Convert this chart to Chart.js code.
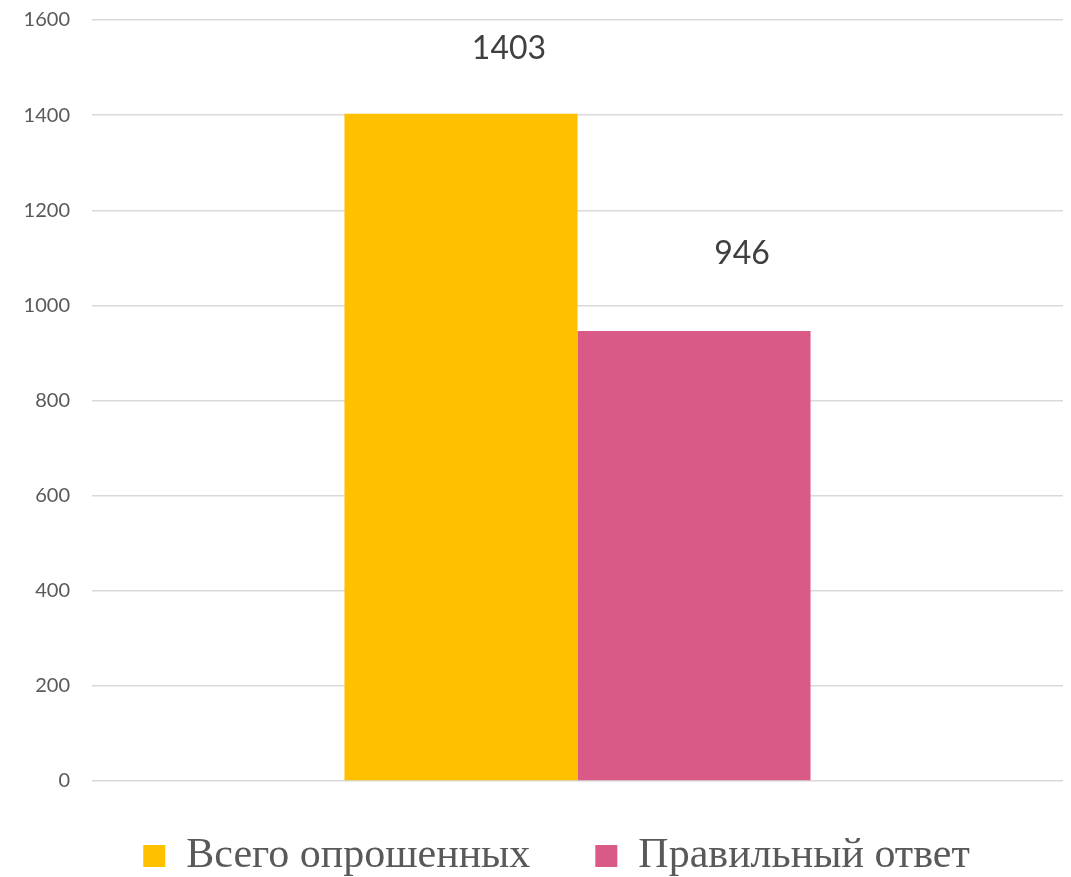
<!DOCTYPE html>
<html>
<head>
<meta charset="utf-8">
<script src="https://cdn.jsdelivr.net/npm/chart.js@4.4.1/dist/chart.umd.min.js"></script>
<style>
  html, body { margin: 0; padding: 0; background: #fff; }
  #wrap { width: 1071px; height: 877px; }
</style>
</head>
<body>
<div id="wrap"><canvas id="surveyChart"></canvas></div>
<script>
// данные опроса
var categories = [''];
var seriesNames = ['Всего опрошенных', 'Правильный ответ'];
var totalValues = [1403];
var correctValues = [946];
var yTicks = [0, 200, 400, 600, 800, 1000, 1200, 1400, 1600];

// подписи значений над столбцами (сдвиг как в исходнике)
var valueLabels = {
    id: 'valueLabels',
    afterDatasetsDraw: function(chart, args, opts) {
        var ctx = chart.ctx;
        ctx.save();
        ctx.font = '32px Lato, "Open Sans", sans-serif';
        ctx.fillStyle = '#404040';
        ctx.textAlign = 'center';
        ctx.textBaseline = 'middle';
        chart.data.datasets.forEach(function(ds, i) {
            var meta = chart.getDatasetMeta(i);
            meta.data.forEach(function(bar, j) {
                var off = opts.offsets[i];
                ctx.fillText(String(ds.data[j]), bar.x + off[0], bar.y + off[1]);
            });
        });
        ctx.restore();
    }
};

// легенда в исходнике чуть смещена вправо и вниз
var legendShift = {
    id: 'legendShift',
    afterLayout: function(chart, args, opts) {
        if (chart.legend) {
            chart.legend.left += opts.dx;
            chart.legend.right += opts.dx;
            chart.legend.top += opts.dy;
            chart.legend.bottom += opts.dy;
        }
    }
};

var ctx = document.getElementById('surveyChart').getContext('2d');
var surveyChart = new Chart(ctx, {
    type: 'bar',
    data: {
        labels: categories,
        datasets: [{
            label: seriesNames[0],
            data: totalValues,
            backgroundColor: '#FFC000'
        }, {
            label: seriesNames[1],
            data: correctValues,
            backgroundColor: '#DA5A87'
        }]
    },
    options: {
        responsive: true,
        maintainAspectRatio: false,
        animation: false,
        layout: { padding: { top: 20, right: 8, bottom: 0, left: 0 } },
        datasets: {
            bar: { barPercentage: 1, categoryPercentage: 0.48 }
        },
        scales: {
            x: { display: false },
            y: {
                min: 0,
                max: 1600,
                afterFit: function(s) {
                    s.width = 92;
                    s.paddingTop = 0;
                    s.paddingBottom = 0;
                },
                afterBuildTicks: function(s) { s.ticks = yTicks.map(function(v) { return { value: v }; }); },
                grid: { color: '#D9D9D9', lineWidth: 1.5, drawTicks: false },
                border: { display: false },
                ticks: {
                    color: '#595959',
                    font: { family: 'Lato, "Open Sans", sans-serif', size: 20 },
                    padding: 22,
                    callback: function(v) { return String(v); }
                }
            }
        },
        plugins: {
            legend: {
                position: 'bottom',
                labels: {
                    boxWidth: 22,
                    boxHeight: 22,
                    padding: 44,
                    color: '#595959',
                    font: { family: '"Liberation Serif", "Times New Roman", serif', size: 42 },
                    generateLabels: function(chart) {
                        var items = Chart.defaults.plugins.legend.labels.generateLabels(chart);
                        // в исходнике между элементами легенды промежуток шире
                        items[0].text = items[0].text + '\u2002';
                        return items;
                    }
                }
            },
            tooltip: { enabled: false },
            valueLabels: { offsets: [[48, -65], [48, -77]] },
            legendShift: { dx: 25, dy: 10 }
        }
    },
    plugins: [valueLabels, legendShift]
});
</script>
</body>
</html>
